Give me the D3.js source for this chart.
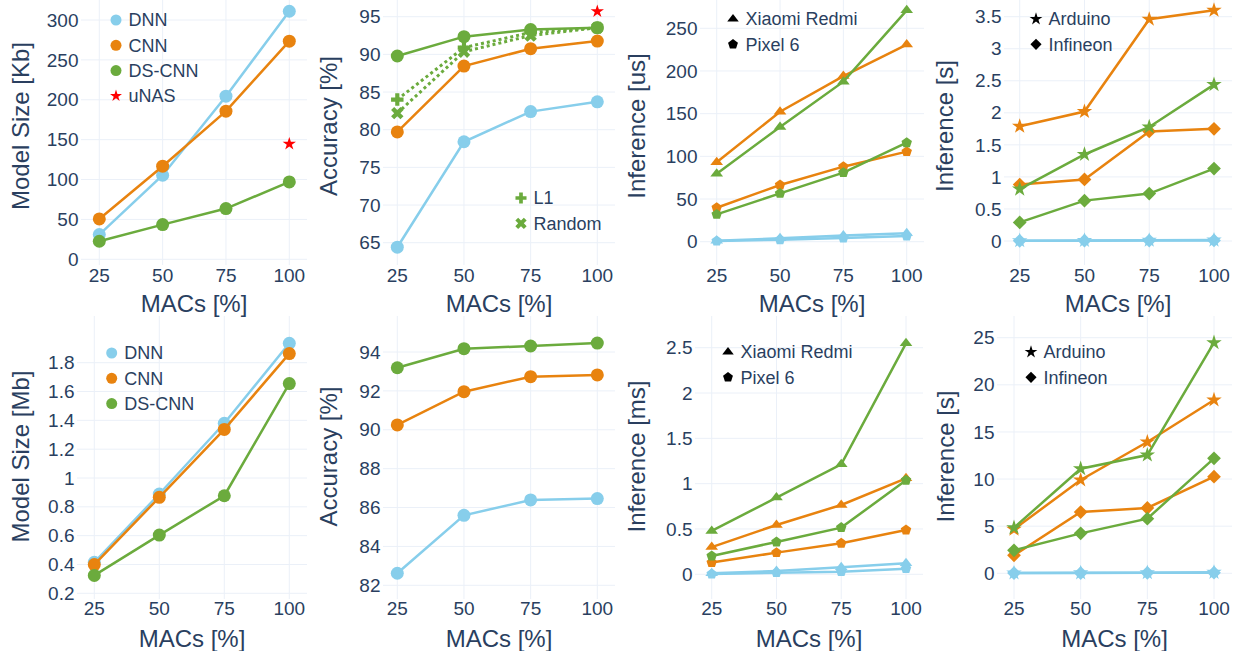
<!DOCTYPE html>
<html>
<head>
<meta charset="utf-8">
<script src="https://cdn.jsdelivr.net/npm/d3@7"></script>
<style>
  html, body { margin: 0; padding: 0; background: #fff; }
  svg { display: block; font-family: "Liberation Sans", Arial, Helvetica, sans-serif; }
</style>
</head>
<body>
<svg id="chart" width="1239" height="651"></svg>
<script>
// MACs budget, shared by every panel
var macs = [25, 50, 75, 100];

// Top row: model size [Kb]
var sizeKbDNN = [31, 105.4, 204.5, 311];
var sizeKbCNN = [50.6, 116.7, 185.7, 273.5];
var sizeKbDSCNN = [22.6, 43.5, 63.6, 97];
var sizeKbUNAS = [144.7];

// Top row: accuracy [%]
var accTopDNN = [64.4, 78.4, 82.4, 83.7];
var accTopCNN = [79.7, 88.45, 90.75, 91.77];
var accTopDSCNN = [89.78, 92.35, 93.3, 93.54];
var accTopL1 = [84.0, 90.9, 92.9, 93.54];
var accTopRandom = [82.2, 90.35, 92.5, 93.54];
var accTopUNAS = [95.7];

// Top row: phone inference [us]
var xiaomiUsDNN = [1.2, 3.9, 7.4, 9.8];
var xiaomiUsCNN = [93, 152.3, 194, 231];
var xiaomiUsDSCNN = [79.7, 134.4, 187.5, 271];
var pixelUsDNN = [0.8, 2.3, 4.3, 6.6];
var pixelUsCNN = [39.8, 66.4, 87.9, 105.5];
var pixelUsDSCNN = [32, 56.6, 80.9, 116];

// Top row: MCU inference [s]
var arduinoTopDNN = [0.005, 0.008, 0.011, 0.014];
var arduinoTopCNN = [1.79, 2.02, 3.46, 3.6];
var arduinoTopDSCNN = [0.81, 1.35, 1.78, 2.44];
var infineonTopDNN = [0.003, 0.005, 0.007, 0.009];
var infineonTopCNN = [0.88, 0.96, 1.71, 1.75];
var infineonTopDSCNN = [0.29, 0.63, 0.74, 1.13];

// Bottom row: model size [Mb]
var sizeMbDNN = [0.415, 0.889, 1.38, 1.935];
var sizeMbCNN = [0.399, 0.866, 1.337, 1.863];
var sizeMbDSCNN = [0.324, 0.604, 0.877, 1.655];

// Bottom row: accuracy [%]
var accBotDNN = [82.62, 85.6, 86.39, 86.46];
var accBotCNN = [90.25, 91.96, 92.73, 92.82];
var accBotDSCNN = [93.19, 94.17, 94.31, 94.46];

// Bottom row: phone inference [ms]
var xiaomiMsDNN = [0.011, 0.037, 0.077, 0.121];
var xiaomiMsCNN = [0.30, 0.544, 0.765, 1.059];
var xiaomiMsDSCNN = [0.478, 0.846, 1.213, 2.548];
var pixelMsDNN = [0.004, 0.018, 0.029, 0.0625];
var pixelMsCNN = [0.129, 0.239, 0.342, 0.489];
var pixelMsDSCNN = [0.202, 0.357, 0.515, 1.037];

// Bottom row: MCU inference [s]
var arduinoBotDNN = [0.03, 0.05, 0.07, 0.1];
var arduinoBotCNN = [4.67, 9.9, 13.93, 18.39];
var arduinoBotDSCNN = [4.84, 11.1, 12.55, 24.47];
var infineonBotDNN = [0.02, 0.03, 0.05, 0.07];
var infineonBotCNN = [1.91, 6.5, 6.93, 10.25];
var infineonBotDSCNN = [2.44, 4.24, 5.8, 12.2];

// Tick labels
var ticksSizeKb = [0, 50, 100, 150, 200, 250, 300];
var ticksAccTop = [65, 70, 75, 80, 85, 90, 95];
var ticksUs = [0, 50, 100, 150, 200, 250];
var ticksSTop = [0, 0.5, 1, 1.5, 2, 2.5, 3, 3.5];
var ticksSizeMb = [0.2, 0.4, 0.6, 0.8, 1, 1.2, 1.4, 1.6, 1.8];
var ticksAccBot = [82, 84, 86, 88, 90, 92, 94];
var ticksMs = [0, 0.5, 1, 1.5, 2, 2.5];
var ticksSBot = [0, 5, 10, 15, 20, 25];

// Styles
var textColor = '#2a3f5f';
var gridColor = '#ebf0f8';
var cDNN = '#87ceeb';
var cCNN = '#e8830f';
var cDS = '#6bab3d';
var cStar = '#ff0000';

// Plotly-like marker shapes, r is half the marker size
var symbols = {
  circle: function (r) {
    return 'M' + r + ',0A' + r + ',' + r + ' 0 1,1 0,-' + r + 'A' + r + ',' + r + ' 0 0,1 ' + r + ',0Z';
  },
  triangle: function (r) {
    var rt = r * 2 / Math.sqrt(3);
    return 'M' + (-rt) + ',' + (r / 2) + 'H' + rt + 'L0,' + (-r) + 'Z';
  },
  pentagon: function (r) {
    var x1 = r * 0.951, x2 = r * 0.588, y1 = -r * 0.309, y2 = r * 0.809;
    return 'M' + x1 + ',' + y1 + 'L' + x2 + ',' + y2 + 'H' + (-x2) + 'L' + (-x1) + ',' + y1 + 'L0,' + (-r) + 'Z';
  },
  star: function (r) {
    var rs = r * 1.4;
    var x1 = rs * 0.225, x2 = rs * 0.951, x3 = rs * 0.363, x4 = rs * 0.588;
    var y0 = -rs, y1 = -rs * 0.309, y3 = rs * 0.118, y4 = rs * 0.809, y5 = rs * 0.382;
    return 'M' + x1 + ',' + y1 + 'H' + x2 + 'L' + x3 + ',' + y3 + 'L' + x4 + ',' + y4 +
      'L0,' + y5 + 'L' + (-x4) + ',' + y4 + 'L' + (-x3) + ',' + y3 + 'L' + (-x2) + ',' + y1 +
      'H' + (-x1) + 'L0,' + y0 + 'Z';
  },
  diamond: function (r) {
    var rd = r * 1.3;
    return 'M' + rd + ',0L0,' + rd + 'L' + (-rd) + ',0L0,' + (-rd) + 'Z';
  },
  cross: function (r) {
    var a = r * 0.4, b = r * 1.2;
    return 'M' + b + ',' + a + 'H' + a + 'V' + b + 'H' + (-a) + 'V' + a + 'H' + (-b) + 'V' + (-a) +
      'H' + (-a) + 'V' + (-b) + 'H' + a + 'V' + (-a) + 'H' + b + 'Z';
  },
  x: function (r) {
    var k = r * 0.8 / Math.sqrt(2);
    var ne = 'l' + k + ',' + k, se = 'l' + k + ',' + (-k), sw = 'l' + (-k) + ',' + (-k), nw = 'l' + (-k) + ',' + k;
    return 'M0,' + k + ne + se + sw + se + sw + nw + sw + nw + ne + nw + ne + 'Z';
  }
};

function line(values, color, symbol, r, dash) {
  return {values: values, color: color, symbol: symbol, r: r, dash: dash || null};
}

var top0 = -15, bot0 = 265, top1 = 316, bot1 = 599;

var panels = [
  {
    box: [81, 307, top0, bot0], xPix: [99.3, 289.3], yDom: [0, 300], yPix: [259.3, 20],
    ticks: ticksSizeKb, title: 'Model Size [Kb]', titleX: 28.5,
    series: [
      line(sizeKbDNN, cDNN, 'circle', 6.5),
      line(sizeKbCNN, cCNN, 'circle', 6.5),
      line(sizeKbDSCNN, cDS, 'circle', 6.5),
      {values: sizeKbUNAS, xs: [100], color: cStar, symbol: 'star', r: 5, noLine: true}
    ],
    legend: {x: 116, y: 20, items: [
      {label: 'DNN', color: cDNN, symbol: 'circle', r: 5.5},
      {label: 'CNN', color: cCNN, symbol: 'circle', r: 5.5},
      {label: 'DS-CNN', color: cDS, symbol: 'circle', r: 5.5},
      {label: 'uNAS', color: cStar, symbol: 'star', r: 4.5}
    ]}
  },
  {
    box: [383, 615, top0, bot0], xPix: [397.3, 597.3], yDom: [65, 95], yPix: [242.7, 16.7],
    ticks: ticksAccTop, title: 'Accuracy [%]', titleX: 337,
    series: [
      line(accTopDNN, cDNN, 'circle', 6.5),
      line(accTopCNN, cCNN, 'circle', 6.5),
      line(accTopL1, cDS, 'cross', 5.2, '3,3'),
      line(accTopRandom, cDS, 'x', 5.5, '3,3'),
      line(accTopDSCNN, cDS, 'circle', 6.5),
      {values: accTopUNAS, xs: [100], color: cStar, symbol: 'star', r: 5, noLine: true}
    ],
    legend: {x: 521, y: 198, items: [
      {label: 'L1', color: cDS, symbol: 'cross', r: 4.6},
      {label: 'Random', color: cDS, symbol: 'x', r: 5}
    ]}
  },
  {
    box: [700, 924, top0, bot0], xPix: [716.7, 906.7], yDom: [0, 250], yPix: [241.7, 28.3],
    ticks: ticksUs, title: 'Inference [us]', titleX: 645,
    series: [
      line(xiaomiUsDNN, cDNN, 'triangle', 5.5),
      line(pixelUsDNN, cDNN, 'pentagon', 5.5),
      line(xiaomiUsCNN, cCNN, 'triangle', 5.5),
      line(pixelUsCNN, cCNN, 'pentagon', 5.5),
      line(xiaomiUsDSCNN, cDS, 'triangle', 5.5),
      line(pixelUsDSCNN, cDS, 'pentagon', 5.5)
    ],
    legend: {x: 733, y: 19, items: [
      {label: 'Xiaomi Redmi', color: '#000', symbol: 'triangle', r: 5},
      {label: 'Pixel 6', color: '#000', symbol: 'pentagon', r: 5.2}
    ]}
  },
  {
    box: [1004, 1232, top0, bot0], xPix: [1019.7, 1214], yDom: [0, 3.5], yPix: [241, 16.7],
    ticks: ticksSTop, title: 'Inference [s]', titleX: 953,
    series: [
      line(arduinoTopDNN, cDNN, 'star', 5.8),
      line(infineonTopDNN, cDNN, 'diamond', 5.3),
      line(arduinoTopCNN, cCNN, 'star', 5.8),
      line(infineonTopCNN, cCNN, 'diamond', 5.3),
      line(arduinoTopDSCNN, cDS, 'star', 5.8),
      line(infineonTopDSCNN, cDS, 'diamond', 5.3)
    ],
    legend: {x: 1036, y: 19, items: [
      {label: 'Arduino', color: '#000', symbol: 'star', r: 4.8},
      {label: 'Infineon', color: '#000', symbol: 'diamond', r: 4.3}
    ]}
  },
  {
    box: [77, 307, top1, bot1], xPix: [94.3, 289.3], yDom: [0.2, 1.8], yPix: [593.3, 362.7],
    ticks: ticksSizeMb, title: 'Model Size [Mb]', titleX: 29,
    series: [
      line(sizeMbDNN, cDNN, 'circle', 6.5),
      line(sizeMbCNN, cCNN, 'circle', 6.5),
      line(sizeMbDSCNN, cDS, 'circle', 6.5)
    ],
    legend: {x: 111.7, y: 353, items: [
      {label: 'DNN', color: cDNN, symbol: 'circle', r: 5.5},
      {label: 'CNN', color: cCNN, symbol: 'circle', r: 5.5},
      {label: 'DS-CNN', color: cDS, symbol: 'circle', r: 5.5}
    ]}
  },
  {
    box: [383, 615, top1, bot1], xPix: [397.3, 597.3], yDom: [82, 94], yPix: [585.3, 352],
    ticks: ticksAccBot, title: 'Accuracy [%]', titleX: 337,
    series: [
      line(accBotDNN, cDNN, 'circle', 6.5),
      line(accBotCNN, cCNN, 'circle', 6.5),
      line(accBotDSCNN, cDS, 'circle', 6.5)
    ],
    legend: null
  },
  {
    box: [695, 923, top1, bot1], xPix: [711.7, 906], yDom: [0, 2.5], yPix: [574.3, 347.7],
    ticks: ticksMs, title: 'Inference [ms]', titleX: 645,
    series: [
      line(xiaomiMsDNN, cDNN, 'triangle', 5.5),
      line(pixelMsDNN, cDNN, 'pentagon', 5.5),
      line(xiaomiMsCNN, cCNN, 'triangle', 5.5),
      line(pixelMsCNN, cCNN, 'pentagon', 5.5),
      line(xiaomiMsDSCNN, cDS, 'triangle', 5.5),
      line(pixelMsDSCNN, cDS, 'pentagon', 5.5)
    ],
    legend: {x: 728, y: 352, items: [
      {label: 'Xiaomi Redmi', color: '#000', symbol: 'triangle', r: 5},
      {label: 'Pixel 6', color: '#000', symbol: 'pentagon', r: 5.2}
    ]}
  },
  {
    box: [997, 1232, top1, bot1], xPix: [1014, 1214], yDom: [0, 25], yPix: [573.3, 337.7],
    ticks: ticksSBot, title: 'Inference [s]', titleX: 954,
    series: [
      line(arduinoBotDNN, cDNN, 'star', 5.8),
      line(infineonBotDNN, cDNN, 'diamond', 5.3),
      line(arduinoBotCNN, cCNN, 'star', 5.8),
      line(infineonBotCNN, cCNN, 'diamond', 5.3),
      line(arduinoBotDSCNN, cDS, 'star', 5.8),
      line(infineonBotDSCNN, cDS, 'diamond', 5.3)
    ],
    legend: {x: 1031, y: 352, items: [
      {label: 'Arduino', color: '#000', symbol: 'star', r: 4.8},
      {label: 'Infineon', color: '#000', symbol: 'diamond', r: 4.3}
    ]}
  }
];

var svg = d3.select('#chart');

panels.forEach(function (p, pi) {
  var left = p.box[0], right = p.box[1], top = p.box[2], bottom = p.box[3];
  var isTop = pi < 4;
  var x = d3.scaleLinear().domain([25, 100]).range(p.xPix);
  var y = d3.scaleLinear().domain(p.yDom).range(p.yPix);
  var g = svg.append('g').attr('class', 'panel');

  // Grids
  g.selectAll('.hgrid')
   .data(p.ticks)
   .enter()
   .append('line')
   .attr('x1', left)
   .attr('x2', right)
   .attr('y1', function (d) { return y(d); })
   .attr('y2', function (d) { return y(d); })
   .attr('stroke', gridColor)
   .attr('stroke-width', 1);
  g.selectAll('.vgrid')
   .data(macs)
   .enter()
   .append('line')
   .attr('x1', function (d) { return x(d); })
   .attr('x2', function (d) { return x(d); })
   .attr('y1', top)
   .attr('y2', bottom)
   .attr('stroke', gridColor)
   .attr('stroke-width', 1);

  // Tick labels
  g.selectAll('.ytick')
   .data(p.ticks)
   .enter()
   .append('text')
   .attr('x', left - 2.5)
   .attr('y', function (d) { return y(d); })
   .attr('dy', '0.35em')
   .attr('text-anchor', 'end')
   .attr('font-size', 19)
   .attr('fill', textColor)
   .text(function (d) { return String(d); });
  g.selectAll('.xtick')
   .data(macs)
   .enter()
   .append('text')
   .attr('x', function (d) { return x(d); })
   .attr('y', isTop ? 282 : 614.5)
   .attr('text-anchor', 'middle')
   .attr('font-size', 19)
   .attr('fill', textColor)
   .text(function (d) { return d; });

  // Axis titles
  g.append('text')
   .attr('x', (left + right) / 2)
   .attr('y', isTop ? 312 : 646.5)
   .attr('text-anchor', 'middle')
   .attr('font-size', 24)
   .attr('fill', textColor)
   .text('MACs [%]');
  g.append('text')
   .attr('transform', 'translate(' + p.titleX + ',' + (isTop ? 126 : 456.5) + ') rotate(-90)')
   .attr('text-anchor', 'middle')
   .attr('font-size', 24)
   .attr('fill', textColor)
   .text(p.title);

  // Lines and markers
  var path = d3.line()
               .x(function (d) { return x(d[0]); })
               .y(function (d) { return y(d[1]); });
  p.series.forEach(function (s) {
    var xs = s.xs || macs;
    var pts = s.values.map(function (v, i) { return [xs[i], v]; });
    if (!s.noLine) {
      g.append('path')
       .attr('d', path(pts))
       .attr('fill', 'none')
       .attr('stroke', s.color)
       .attr('stroke-width', s.dash ? 3 : 2.5)
       .attr('stroke-dasharray', s.dash);
    }
    g.selectAll(null)
     .data(pts)
     .enter()
     .append('path')
     .attr('transform', function (d) { return 'translate(' + x(d[0]) + ',' + y(d[1]) + ')'; })
     .attr('d', symbols[s.symbol](s.r))
     .attr('fill', s.color);
  });

  // Legend
  if (p.legend) {
    var lg = g.selectAll('.legend')
              .data(p.legend.items)
              .enter()
              .append('g')
              .attr('transform', function (d, i) {
                return 'translate(' + p.legend.x + ',' + (p.legend.y + i * 25.3) + ')';
              });
    lg.append('path')
      .attr('d', function (d) { return symbols[d.symbol](d.r); })
      .attr('fill', function (d) { return d.color; });
    lg.append('text')
      .attr('x', 12.5)
      .attr('dy', '0.35em')
      .attr('font-size', 18)
      .attr('fill', textColor)
      .text(function (d) { return d.label; });
  }
});
</script>
</body>
</html>
